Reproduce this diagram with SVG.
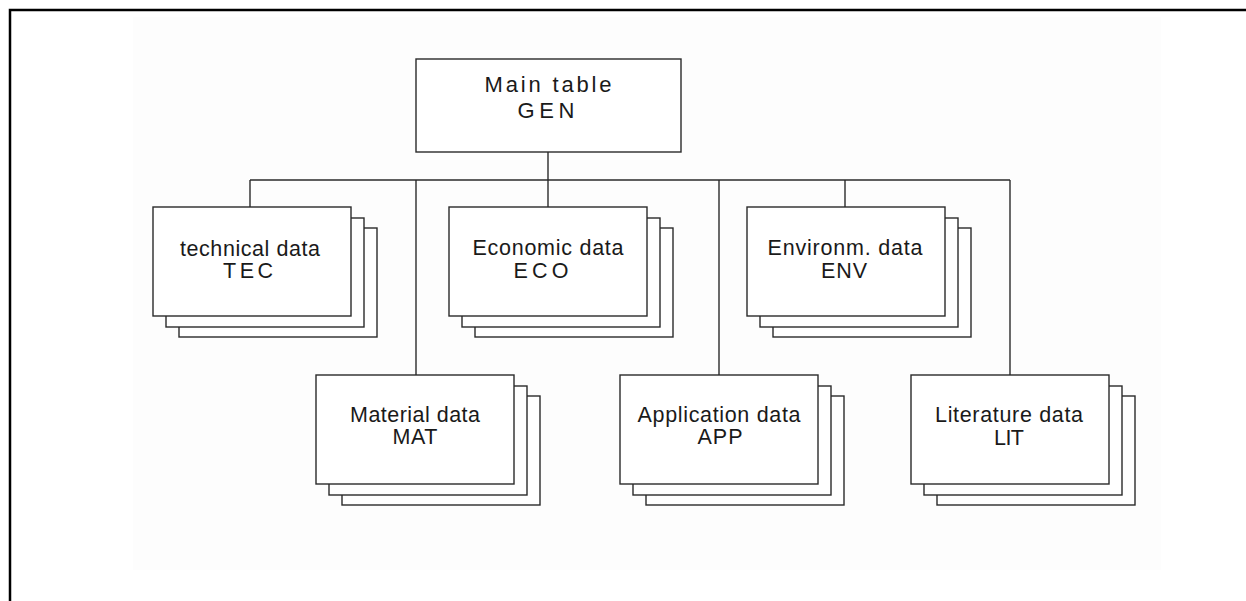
<svg xmlns="http://www.w3.org/2000/svg" width="1246" height="601" viewBox="0 0 1246 601">
  <style>
    .frame { fill: none; stroke: #000; stroke-width: 2.5; }
    .box { fill: #fff; stroke: #2a2a2a; stroke-width: 1.4; }
    .wire { fill: none; stroke: #2a2a2a; stroke-width: 1.4; }
    .lbl { font-family: "Liberation Sans", Arial, sans-serif; font-size: 21.5px; fill: #1a1a1a; text-anchor: middle; }
    .main { font-size: 22px; }
  </style>
  <defs>
    <!-- stacked record box: three sheets, 198 x 109 -->
    <g id="stack">
      <rect class="box" x="26" y="21" width="198" height="109"/>
      <rect class="box" x="13" y="11" width="198" height="109"/>
      <rect class="box" x="0" y="0" width="198" height="109"/>
    </g>
  </defs>

  <rect x="0" y="0" width="1246" height="601" fill="#fff"/>
  <rect x="133" y="17" width="1028" height="553" fill="#fdfdfd"/>
  <path class="frame" d="M10 601 V10 H1246"/>

  <g id="connectors">
    <path class="wire" d="M548 152 V207"/>
    <path class="wire" d="M250 180 H1010"/>
    <path class="wire" d="M250 180 V207"/>
    <path class="wire" d="M416 180 V375"/>
    <path class="wire" d="M719 180 V375"/>
    <path class="wire" d="M845 180 V207"/>
    <path class="wire" d="M1010 180 V375"/>
  </g>

  <g id="gen">
    <rect class="box" x="416" y="59" width="265" height="93"/>
    <text class="lbl main" x="548" y="92" textLength="127" lengthAdjust="spacing">Main table</text>
    <text class="lbl main" x="546" y="118" textLength="57" lengthAdjust="spacing">GEN</text>
  </g>

  <g id="tec">
    <use href="#stack" x="153" y="207"/>
    <text class="lbl" x="250" y="256" textLength="140" lengthAdjust="spacing">technical data</text>
    <text class="lbl" x="248" y="278" textLength="50" lengthAdjust="spacing">TEC</text>
  </g>

  <g id="eco">
    <use href="#stack" x="449" y="207"/>
    <text class="lbl" x="548" y="255" textLength="151" lengthAdjust="spacing">Economic data</text>
    <text class="lbl" x="541" y="278" textLength="55" lengthAdjust="spacing">ECO</text>
  </g>

  <g id="env">
    <use href="#stack" x="747" y="207"/>
    <text class="lbl" x="845" y="255" textLength="155" lengthAdjust="spacing">Environm. data</text>
    <text class="lbl" x="844" y="278" textLength="46" lengthAdjust="spacing">ENV</text>
  </g>

  <g id="mat">
    <use href="#stack" x="316" y="375"/>
    <text class="lbl" x="415" y="422" textLength="130" lengthAdjust="spacing">Material data</text>
    <text class="lbl" x="415" y="444" textLength="45" lengthAdjust="spacing">MAT</text>
  </g>

  <g id="app">
    <use href="#stack" x="620" y="375"/>
    <text class="lbl" x="719" y="422" textLength="163" lengthAdjust="spacing">Application data</text>
    <text class="lbl" x="720" y="444" textLength="45" lengthAdjust="spacing">APP</text>
  </g>

  <g id="lit">
    <use href="#stack" x="911" y="375"/>
    <text class="lbl" x="1009" y="422" textLength="148" lengthAdjust="spacing">Literature data</text>
    <text class="lbl" x="1009" y="445" textLength="30" lengthAdjust="spacing">LIT</text>
  </g>
</svg>
